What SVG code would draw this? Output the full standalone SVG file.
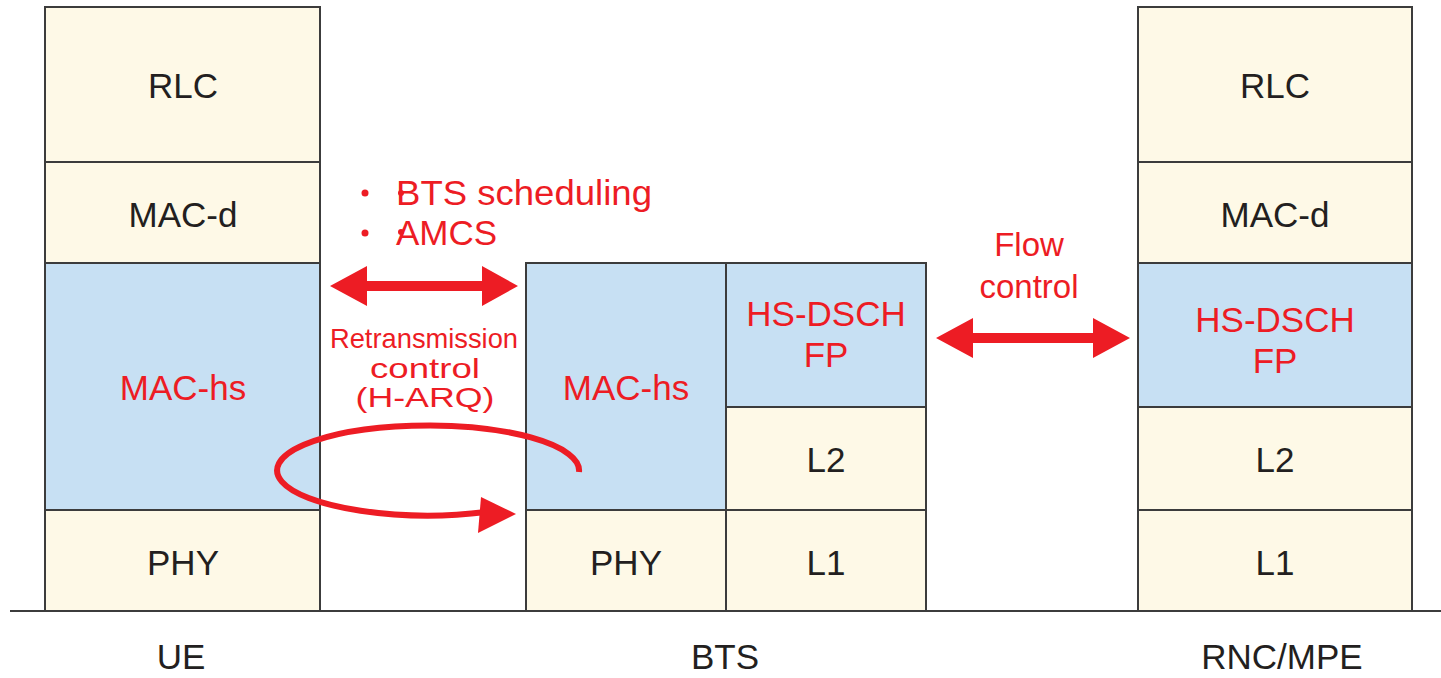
<svg xmlns="http://www.w3.org/2000/svg" width="1441" height="678" viewBox="0 0 1441 678">
<style>
  .cream { fill: #FEF9E7; stroke: #3c3c3c; stroke-width: 2; }
  .blue { fill: #C7E0F3; stroke: #3c3c3c; stroke-width: 2; }
  .lbl { font-family: "Liberation Sans", Arial, sans-serif; font-size: 35px; fill: #231F20; text-anchor: middle; }
  .red { fill: #ED1C24; }
  .rtxt { font-family: "Liberation Sans", Arial, sans-serif; font-size: 35px; fill: #ED1C24; text-anchor: middle; }
  .rt { font-family: "Liberation Sans", Arial, sans-serif; font-size: 28px; fill: #ED1C24; text-anchor: middle; }
  .base { font-family: "Liberation Sans", Arial, sans-serif; font-size: 35px; fill: #231F20; text-anchor: middle; }
</style>
<rect width="1441" height="678" fill="#ffffff"/>

<g id="ue">
  <rect class="cream" x="45" y="7" width="275" height="155"/>
  <text class="lbl" x="183" y="98">RLC</text>
  <rect class="cream" x="45" y="162" width="275" height="101"/>
  <text class="lbl" x="183" y="227">MAC-d</text>
  <rect class="blue" x="45" y="263" width="275" height="247"/>
  <text class="rtxt" x="183" y="400">MAC-hs</text>
  <rect class="cream" x="45" y="510" width="275" height="101"/>
  <text class="lbl" x="183" y="575">PHY</text>
</g>

<g id="bts">
  <rect class="blue" x="526" y="263" width="200" height="247"/>
  <text class="rtxt" x="626" y="400">MAC-hs</text>
  <rect class="cream" x="526" y="510" width="200" height="101"/>
  <text class="lbl" x="626" y="575">PHY</text>
  <rect class="blue" x="726" y="263" width="200" height="144"/>
  <text class="rtxt" x="826" y="326">HS-DSCH</text>
  <text class="rtxt" x="826" y="367">FP</text>
  <rect class="cream" x="726" y="407" width="200" height="103"/>
  <text class="lbl" x="826" y="472">L2</text>
  <rect class="cream" x="726" y="510" width="200" height="101"/>
  <text class="lbl" x="826" y="575">L1</text>
</g>

<g id="rnc">
  <rect class="cream" x="1138" y="7" width="274" height="155"/>
  <text class="lbl" x="1275" y="98">RLC</text>
  <rect class="cream" x="1138" y="162" width="274" height="101"/>
  <text class="lbl" x="1275" y="227">MAC-d</text>
  <rect class="blue" x="1138" y="263" width="274" height="144"/>
  <text class="rtxt" x="1275" y="332">HS-DSCH</text>
  <text class="rtxt" x="1275" y="373">FP</text>
  <rect class="cream" x="1138" y="407" width="274" height="103"/>
  <text class="lbl" x="1275" y="472">L2</text>
  <rect class="cream" x="1138" y="510" width="274" height="101"/>
  <text class="lbl" x="1275" y="575">L1</text>
</g>

<line x1="10" y1="611" x2="1441" y2="611" stroke="#3c3c3c" stroke-width="2"/>

<g id="bottom-labels">
  <text class="base" x="181" y="669">UE</text>
  <text class="base" x="725" y="669">BTS</text>
  <text class="base" x="1282" y="669">RNC/MPE</text>
</g>

<g id="annotations">
  <circle class="red" cx="365" cy="193" r="3.5"/>
  <circle class="red" cx="401" cy="193" r="3"/>
  <text class="rtxt" x="396" y="205" style="text-anchor:start" textLength="256" lengthAdjust="spacingAndGlyphs">BTS scheduling</text>
  <circle class="red" cx="365" cy="233" r="3.5"/>
  <circle class="red" cx="401" cy="232" r="3"/>
  <text class="rtxt" x="396" y="245" style="text-anchor:start">AMCS</text>
  <text class="rt" x="424" y="348" textLength="188" lengthAdjust="spacingAndGlyphs">Retransmission</text>
  <text class="rt" x="425" y="378" textLength="110" lengthAdjust="spacingAndGlyphs">control</text>
  <text class="rt" x="425" y="407" textLength="139" lengthAdjust="spacingAndGlyphs">(H-ARQ)</text>
  <text class="rtxt" x="1029" y="256" style="font-size:33px">Flow</text>
  <text class="rtxt" x="1029" y="298" style="font-size:33px">control</text>
</g>

<g id="connectors">
  <polygon class="red" points="330,286 367,266 367,281 482,281 482,266 518,286 482,306 482,291 367,291 367,306"/>
  <polygon class="red" points="936,338 973,318 973,333 1093,333 1093,318 1130,338 1093,358 1093,343 973,343 973,358"/>
  <path d="M 579 472 A 151 45 0 1 0 486 512" fill="none" stroke="#ED1C24" stroke-width="6"/>
  <polygon class="red" points="516,514 481,497 478,533"/>
</g>
</svg>
